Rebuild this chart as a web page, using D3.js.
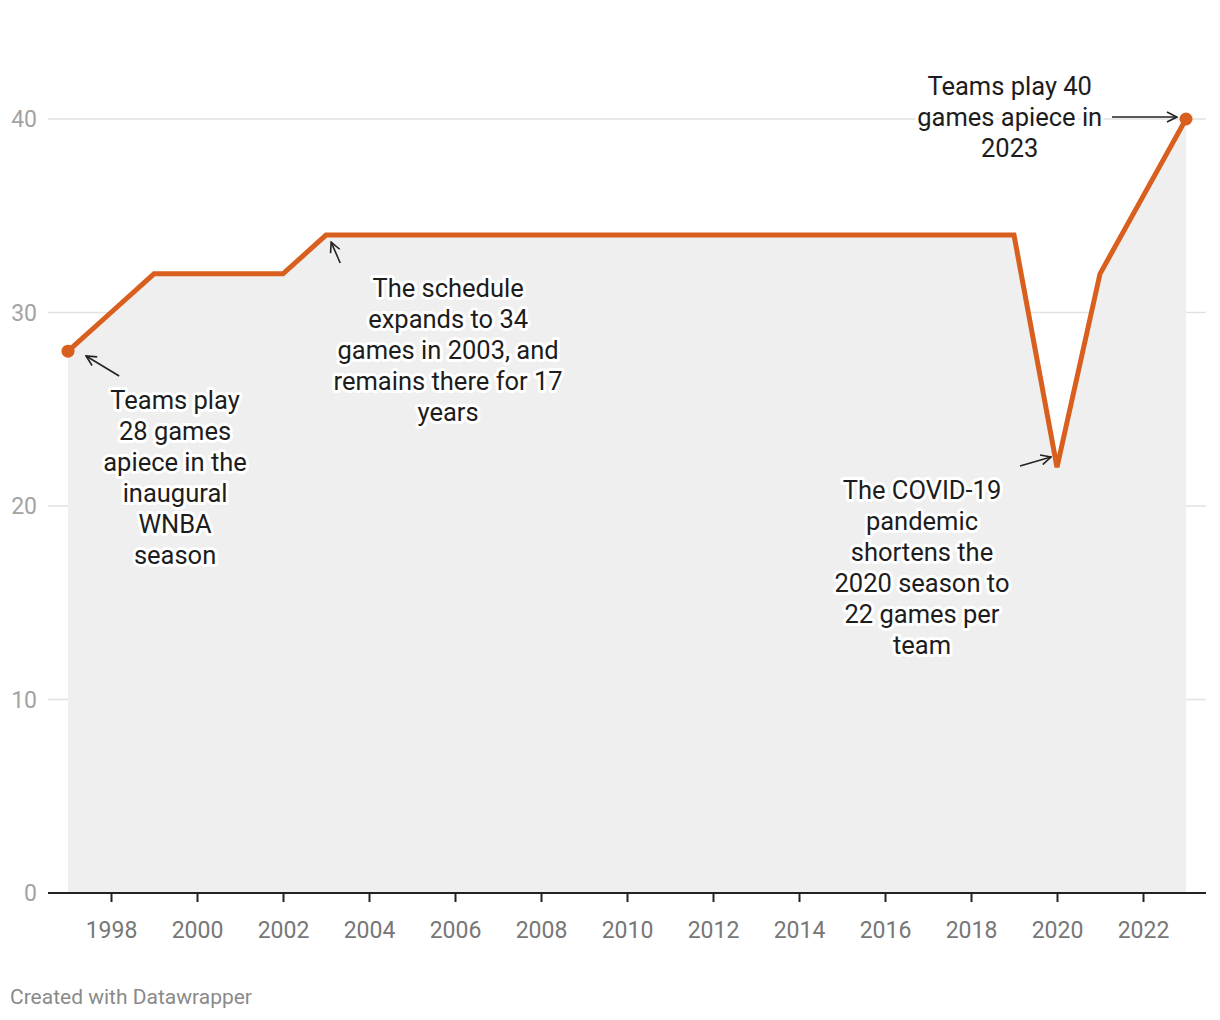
<!DOCTYPE html>
<html><head><meta charset="utf-8">
<script src="https://cdn.jsdelivr.net/npm/d3@7"></script>
<style>body{margin:0;background:#fff;font-family:Roboto,"Noto Sans",sans-serif;}</style>
</head><body><svg id="c" width="1220" height="1020"></svg>
<script>
const years = [1997,1998,1999,2000,2001,2002,2003,2004,2005,2006,2007,2008,2009,2010,2011,2012,2013,2014,2015,2016,2017,2018,2019,2020,2021,2022,2023];
const games = [28,30,32,32,32,32,34,34,34,34,34,34,34,34,34,34,34,34,34,34,34,34,34,22,32,36,40];
const yTicks = [0,10,20,30,40];
const xTicks = [1998,2000,2002,2004,2006,2008,2010,2012,2014,2016,2018,2020,2022];
const notes = [
  {lines:["Teams play","28 games","apiece in the","inaugural","WNBA","season"], year:1999.49, val:25.0, arrow:[[1998.19,26.72],[1997.42,27.75]]},
  {lines:["The schedule","expands to 34","games in 2003, and","remains there for 17","years"], year:2005.84, val:30.8, arrow:[[2003.33,32.56],[2003.12,33.64]]},
  {lines:["The COVID-19","pandemic","shortens the","2020 season to","22 games per","team"], year:2016.86, val:20.36, arrow:[[2019.14,22.07],[2019.86,22.53]]},
  {lines:["Teams play 40","games apiece in","2023"], year:2018.9, val:41.24, arrow:[[2021.28,40.1],[2022.79,40.1]]}
];

const svg = d3.select("#c");
const x = d3.scaleLinear().domain([1997,2023]).range([68,1186]);
const y = d3.scaleLinear().domain([0,40]).range([893,119]);

// grid
svg.append("g").selectAll("line").data(yTicks.filter(d=>d>0)).join("line")
  .attr("x1",48).attr("x2",1206).attr("y1",d=>y(d)).attr("y2",d=>y(d))
  .attr("stroke","#e2e2e2").attr("stroke-width",1.3);
svg.append("g").selectAll("text").data(yTicks).join("text")
  .attr("x",37).attr("y",d=>y(d)+8).attr("text-anchor","end")
  .attr("font-size",23).attr("fill","#a3a3a3").text(d=>d);

// area
svg.append("path").datum(years.map((yr,i)=>[yr,games[i]]))
  .attr("d", d3.area().x(d=>x(d[0])).y0(y(0)).y1(d=>y(d[1])))
  .attr("fill","#efefef");

// x axis
svg.append("line").attr("x1",48).attr("x2",1206).attr("y1",y(0)).attr("y2",y(0))
  .attr("stroke","#222").attr("stroke-width",2);
const xa = svg.append("g").attr("transform",`translate(0,${y(0)})`)
  .call(d3.axisBottom(x).tickValues(xTicks).tickFormat(d3.format("d")).tickSize(9).tickSizeOuter(0).tickPadding(20));
xa.select(".domain").remove();
xa.selectAll(".tick line").attr("stroke","#222").attr("stroke-width",2);
xa.selectAll("text").attr("font-size",23).attr("fill","#777").attr("font-family","Roboto");

// line
svg.append("path").datum(years.map((yr,i)=>[yr,games[i]]))
  .attr("d", d3.line().x(d=>x(d[0])).y(d=>y(d[1])))
  .attr("fill","none").attr("stroke","#d95f1e").attr("stroke-width",5).attr("stroke-linejoin","miter");
[0,years.length-1].forEach(i=>{
  svg.append("circle").attr("cx",x(years[i])).attr("cy",y(games[i])).attr("r",6.5).attr("fill","#d95f1e");
});

// annotations
svg.append("defs").append("marker").attr("id","ah").attr("viewBox","0 0 12 12")
  .attr("refX",11).attr("refY",6).attr("markerWidth",12).attr("markerHeight",12)
  .attr("markerUnits","userSpaceOnUse").attr("orient","auto")
  .append("path").attr("d","M1,1 L11,6 L1,11").attr("fill","none").attr("stroke","#222").attr("stroke-width",1.6);

notes.forEach(n=>{
  svg.append("line")
    .attr("x1",x(n.arrow[0][0])).attr("y1",y(n.arrow[0][1]))
    .attr("x2",x(n.arrow[1][0])).attr("y2",y(n.arrow[1][1]))
    .attr("stroke","#222").attr("stroke-width",1.6).attr("marker-end","url(#ah)");
  const cx = x(n.year), cy = y(n.val);
  const g = svg.append("g");
  [true,false].forEach(halo=>{
    g.selectAll(null).data(n.lines).join("text")
      .attr("x",cx).attr("y",(d,i)=>cy+i*31).attr("text-anchor","middle")
      .attr("font-size",25.5).attr("fill","#1d1d1d")
      .attr("stroke",halo?"#fff":"none").attr("stroke-width",halo?6:0).attr("stroke-linejoin","round")
      .text(d=>d);
  });
});

svg.append("text").attr("x",10).attr("y",1004).attr("font-size",21).attr("fill","#8a8a8a").text("Created with Datawrapper");
</script></body></html>
